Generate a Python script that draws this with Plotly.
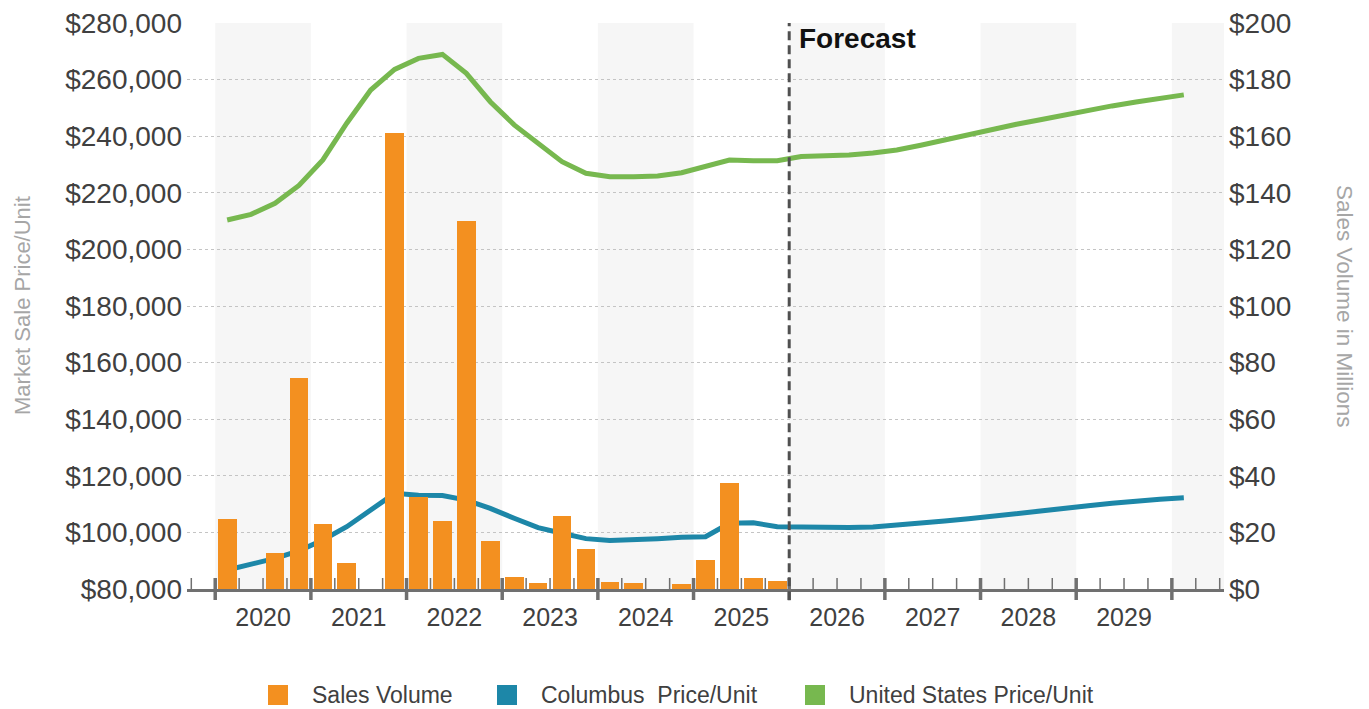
import numpy as np
import plotly.graph_objects as go

# ---------------- data ----------------
quarter_labels = [f"{y} Q{q}" for y in range(2020, 2030) for q in range(1, 5)] + ["2030 Q1"]
year_labels = ["2020", "2021", "2022", "2023", "2024", "2025", "2026", "2027", "2028", "2029"]
forecast_start = "2026 Q1"

# Sales volume in $ millions, 2020 Q1 - 2025 Q4 (None = no sales)
sales_volume = [24.7, None, 12.8, 74.4,
                23.0, 9.1, None, 161.1,
                32.6, 23.9, 130.0, 17.0,
                4.1, 2.2, 25.8, 14.1,
                2.6, 2.2, None, 1.8,
                10.4, 37.6, 4.0, 2.7]

# Market sale price per unit, $ thousands, 2020 Q1 - 2030 Q1
columbus_price = [86.7, 88.7, 90.8, 93.5,
                  97.3, 102.0, 107.9, 113.8,
                  113.1, 113.0, 111.4, 108.5,
                  105.0, 101.7, 99.7, 97.8,
                  97.1, 97.3, 97.8, 98.3,
                  98.5, 103.2, 103.4, 102.0,
                  101.8, 101.6, 101.7, 101.9,
                  102.5, 103.2, 104.0, 104.8,
                  105.8, 106.7, 107.6, 108.6,
                  109.4, 110.3, 111.1, 111.7,
                  112.2]
us_price = [210.4, 212.4, 216.3, 222.6,
            231.6, 244.6, 256.3, 263.6,
            267.5, 268.9, 262.2, 252.2,
            244.0, 237.5, 231.0, 226.9,
            225.7, 225.7, 225.9, 227.1,
            229.2, 231.6, 231.3, 231.3,
            232.8, 232.9, 233.4, 234.1,
            235.1, 236.8, 238.7, 240.4,
            242.4, 244.2, 245.8, 247.5,
            249.1, 250.7, 252.1, 253.4,
            254.6]

series_names = ["Sales Volume", "Columbus  Price/Unit", "United States Price/Unit"]

# ---------------- styling ----------------
ORANGE = "#F39020"
BLUE = "#1D87A8"
GREEN = "#77B84F"
TXT = "#404040"
TITLE_GRAY = "#A6A6A6"
AXIS_GRAY = "#707070"
BAND = "#F6F6F6"
FONT = "Liberation Sans, Arial, sans-serif"

OFF = 8  # default page body margin
W, H = 1369 - OFF, 709 - OFF
ML, MT = 187 - OFF, 23 - OFF
PW, PH = 1224 - 187, 589 - 23
MR, MB = W - ML - PW, H - MT - PH

x = np.arange(len(quarter_labels))
xv = x[:len(sales_volume)]
col_usd = [v * 1000 for v in columbus_price]
us_usd = [v * 1000 for v in us_price]

xmin, xmax = -1.68, len(quarter_labels) + 0.68

fig = go.Figure()
fig.add_trace(go.Bar(x=xv, y=sales_volume, yaxis="y2", marker=dict(color=ORANGE, line=dict(width=0)),
                     width=0.78, name=series_names[0], showlegend=False))
fig.add_trace(go.Scatter(x=x, y=col_usd, mode="lines", line=dict(color=BLUE, width=5),
                         name=series_names[1], showlegend=False))
fig.add_trace(go.Scatter(x=x, y=us_usd, mode="lines", line=dict(color=GREEN, width=5),
                         name=series_names[2], showlegend=False))

shapes = []
# alternating year bands (even years shaded)
for i in range(0, len(year_labels) + 2, 2):
    x0 = -0.5 + 4 * i
    shapes.append(dict(type="rect", xref="x", yref="paper", x0=x0, x1=x0 + 4, y0=0, y1=1,
                       fillcolor=BAND, line=dict(width=0), layer="below"))
# quarter ticks (minor inside) and year ticks (major, crossing axis)
b = -1.5
while b < xmax:
    major = ((b + 0.5) % 4) == 0
    shapes.append(dict(type="line", xref="x", yref="paper", ysizemode="pixel", yanchor=0,
                       x0=b, x1=b, y0=-11 if major else 0, y1=11,
                       line=dict(color=AXIS_GRAY, width=3.5 if major else 1.5), layer="above"))
    b += 1
# forecast divider
fx = quarter_labels.index(forecast_start) - 0.5
shapes.append(dict(type="line", xref="x", yref="paper", x0=fx, x1=fx, y0=-0.02, y1=1,
                   line=dict(color="#505050", width=3, dash="9px,5px"), layer="above"))

annotations = [
    dict(text="<b>Forecast</b>", xref="x", x=fx, xanchor="left", xshift=8,
         yref="paper", y=1, yanchor="top", yshift=2, showarrow=False,
         font=dict(family=FONT, size=28, color="#111111")),
    dict(text="Market Sale Price/Unit", xref="paper", x=0, xshift=-165, xanchor="center",
         yref="paper", y=0.5, yanchor="middle", textangle=-90, showarrow=False,
         font=dict(family=FONT, size=22, color=TITLE_GRAY)),
    dict(text="Sales Volume in Millions", xref="paper", x=1, xshift=121, xanchor="center",
         yref="paper", y=0.5, yanchor="middle", textangle=90, showarrow=False,
         font=dict(family=FONT, size=22.5, color=TITLE_GRAY)),
]

# manual legend (square swatches); positions in page pixels
leg_sq = [268, 497, 805]
leg_cols = [ORANGE, BLUE, GREEN]
leg_y = 695
for sx, col, name in zip(leg_sq, leg_cols, series_names):
    ax_ = (sx - 187) / PW
    ay_ = (589 - leg_y) / PH
    shapes.append(dict(type="rect", xref="paper", yref="paper",
                       xsizemode="pixel", ysizemode="pixel",
                       xanchor=ax_, yanchor=ay_,
                       x0=0, x1=20, y0=-10, y1=10, fillcolor=col, line=dict(width=0)))
    annotations.append(dict(text=name.replace("  ", "&nbsp; "), xref="paper", x=(sx + 42 - 187) / PW,
                            xanchor="left", yref="paper", y=ay_,
                            yanchor="middle", showarrow=False,
                            font=dict(family=FONT, size=23, color=TXT)))

fig.update_layout(
    width=W, height=H, margin=dict(l=ML, r=MR, t=MT, b=MB, autoexpand=False),
    paper_bgcolor="white", plot_bgcolor="white",
    font=dict(family=FONT, color=TXT),
    bargap=0, showlegend=False,
    xaxis=dict(range=[xmin, xmax], tickmode="array",
               tickvals=[1.5 + 4 * i for i in range(len(year_labels))], ticktext=year_labels,
               ticks="", showgrid=False, zeroline=False, showline=True,
               linecolor=AXIS_GRAY, linewidth=3, tickfont=dict(size=25, color=TXT),
               ticklabelstandoff=4),
    yaxis=dict(range=[80000, 280000], dtick=20000, tickformat="$,.0f",
               showgrid=True, gridcolor="#C4C4C4", griddash="dot", gridwidth=1,
               zeroline=False, showline=False, ticks="", ticklabeloverflow="allow",
               tickfont=dict(size=28, color=TXT), ticklabelstandoff=4),
    yaxis2=dict(range=[0, 200], dtick=20, tickprefix="$", tickformat=",.0f",
                overlaying="y", side="right", showgrid=False, zeroline=False,
                showline=False, ticks="", ticklabeloverflow="allow",
                tickfont=dict(size=28, color=TXT), ticklabelstandoff=4),
    shapes=shapes, annotations=annotations,
)

fig.write_html("out.html")
